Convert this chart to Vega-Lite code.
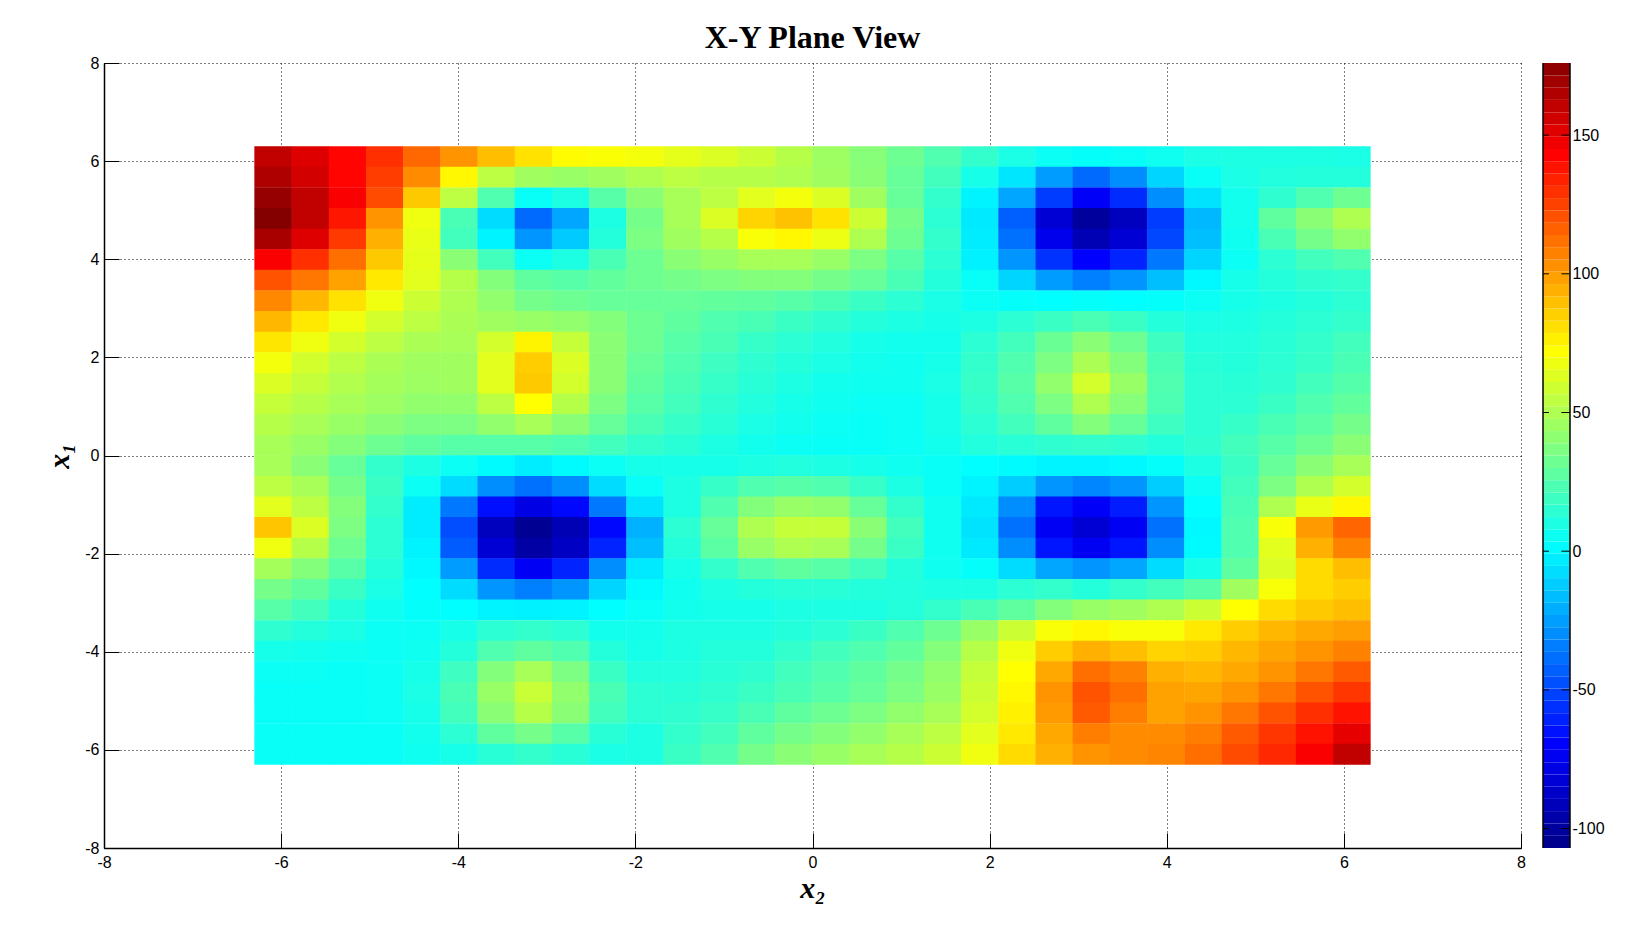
{"$schema":"https://vega.github.io/schema/vega-lite/v6.json","background":"white","padding":{"left":44,"top":22,"right":10,"bottom":10},"spacing":22,"bounds":"flush","hconcat":[{"title":{"text":"X-Y Plane View","font":"Liberation Serif","fontSize":32,"fontWeight":"bold","color":"black","offset":0,"anchor":"middle"},"width":1417,"height":785,"view":{"stroke":null},
"data":{"values":[
{"x":-6.09,"y":6.09,"v":158},{"x":-5.67,"y":6.09,"v":150},{"x":-5.25,"y":6.09,"v":140},{"x":-4.83,"y":6.09,"v":128},{"x":-4.41,"y":6.09,"v":112},{"x":-3.99,"y":6.09,"v":100},{"x":-3.57,"y":6.09,"v":88},{"x":-3.15,"y":6.09,"v":78},{"x":-2.73,"y":6.09,"v":71},{"x":-2.31,"y":6.09,"v":69},{"x":-1.89,"y":6.09,"v":67},{"x":-1.47,"y":6.09,"v":63},{"x":-1.05,"y":6.09,"v":60},{"x":-0.63,"y":6.09,"v":56},{"x":-0.21,"y":6.09,"v":50},{"x":0.21,"y":6.09,"v":43},{"x":0.63,"y":6.09,"v":37},{"x":1.05,"y":6.09,"v":30},{"x":1.47,"y":6.09,"v":22},{"x":1.89,"y":6.09,"v":14},{"x":2.31,"y":6.09,"v":7},{"x":2.73,"y":6.09,"v":3},{"x":3.15,"y":6.09,"v":1},{"x":3.57,"y":6.09,"v":2},{"x":3.99,"y":6.09,"v":4},{"x":4.41,"y":6.09,"v":7},{"x":4.83,"y":6.09,"v":8},{"x":5.25,"y":6.09,"v":8},{"x":5.67,"y":6.09,"v":8},{"x":6.09,"y":6.09,"v":7},
{"x":-6.09,"y":5.67,"v":163},{"x":-5.67,"y":5.67,"v":153},{"x":-5.25,"y":5.67,"v":140},{"x":-4.83,"y":5.67,"v":124},{"x":-4.41,"y":5.67,"v":102},{"x":-3.99,"y":5.67,"v":72},{"x":-3.57,"y":5.67,"v":52},{"x":-3.15,"y":5.67,"v":44},{"x":-2.73,"y":5.67,"v":42},{"x":-2.31,"y":5.67,"v":44},{"x":-1.89,"y":5.67,"v":48},{"x":-1.47,"y":5.67,"v":52},{"x":-1.05,"y":5.67,"v":50},{"x":-0.63,"y":5.67,"v":50},{"x":-0.21,"y":5.67,"v":48},{"x":0.21,"y":5.67,"v":44},{"x":0.63,"y":5.67,"v":38},{"x":1.05,"y":5.67,"v":28},{"x":1.47,"y":5.67,"v":18},{"x":1.89,"y":5.67,"v":6},{"x":2.31,"y":5.67,"v":-7},{"x":2.73,"y":5.67,"v":-28},{"x":3.15,"y":5.67,"v":-42},{"x":3.57,"y":5.67,"v":-32},{"x":3.99,"y":5.67,"v":-12},{"x":4.41,"y":5.67,"v":2},{"x":4.83,"y":5.67,"v":7},{"x":5.25,"y":5.67,"v":9},{"x":5.67,"y":5.67,"v":10},{"x":6.09,"y":5.67,"v":10},
{"x":-6.09,"y":5.25,"v":170},{"x":-5.67,"y":5.25,"v":158},{"x":-5.25,"y":5.25,"v":142},{"x":-4.83,"y":5.25,"v":120},{"x":-4.41,"y":5.25,"v":85},{"x":-3.99,"y":5.25,"v":52},{"x":-3.57,"y":5.25,"v":22},{"x":-3.15,"y":5.25,"v":2},{"x":-2.73,"y":5.25,"v":8},{"x":-2.31,"y":5.25,"v":24},{"x":-1.89,"y":5.25,"v":38},{"x":-1.47,"y":5.25,"v":46},{"x":-1.05,"y":5.25,"v":52},{"x":-0.63,"y":5.25,"v":62},{"x":-0.21,"y":5.25,"v":67},{"x":0.21,"y":5.25,"v":60},{"x":0.63,"y":5.25,"v":44},{"x":1.05,"y":5.25,"v":28},{"x":1.47,"y":5.25,"v":14},{"x":1.89,"y":5.25,"v":-3},{"x":2.31,"y":5.25,"v":-25},{"x":2.73,"y":5.25,"v":-55},{"x":3.15,"y":5.25,"v":-74},{"x":3.57,"y":5.25,"v":-60},{"x":3.99,"y":5.25,"v":-32},{"x":4.41,"y":5.25,"v":-8},{"x":4.83,"y":5.25,"v":5},{"x":5.25,"y":5.25,"v":13},{"x":5.67,"y":5.25,"v":22},{"x":6.09,"y":5.25,"v":30},
{"x":-6.09,"y":4.83,"v":175},{"x":-5.67,"y":4.83,"v":158},{"x":-5.25,"y":4.83,"v":135},{"x":-4.83,"y":4.83,"v":100},{"x":-4.41,"y":4.83,"v":66},{"x":-3.99,"y":4.83,"v":20},{"x":-3.57,"y":4.83,"v":-10},{"x":-3.15,"y":4.83,"v":-42},{"x":-2.73,"y":4.83,"v":-25},{"x":-2.31,"y":4.83,"v":8},{"x":-1.89,"y":4.83,"v":32},{"x":-1.47,"y":4.83,"v":46},{"x":-1.05,"y":4.83,"v":60},{"x":-0.63,"y":4.83,"v":82},{"x":-0.21,"y":4.83,"v":87},{"x":0.21,"y":4.83,"v":78},{"x":0.63,"y":4.83,"v":56},{"x":1.05,"y":4.83,"v":32},{"x":1.47,"y":4.83,"v":12},{"x":1.89,"y":4.83,"v":-6},{"x":2.31,"y":4.83,"v":-45},{"x":2.73,"y":4.83,"v":-85},{"x":3.15,"y":4.83,"v":-103},{"x":3.57,"y":4.83,"v":-92},{"x":3.99,"y":4.83,"v":-55},{"x":4.41,"y":4.83,"v":-20},{"x":4.83,"y":4.83,"v":5},{"x":5.25,"y":4.83,"v":26},{"x":5.67,"y":4.83,"v":38},{"x":6.09,"y":4.83,"v":48},
{"x":-6.09,"y":4.41,"v":165},{"x":-5.67,"y":4.41,"v":150},{"x":-5.25,"y":4.41,"v":125},{"x":-4.83,"y":4.41,"v":92},{"x":-4.41,"y":4.41,"v":64},{"x":-3.99,"y":4.41,"v":18},{"x":-3.57,"y":4.41,"v":-3},{"x":-3.15,"y":4.41,"v":-30},{"x":-2.73,"y":4.41,"v":-15},{"x":-2.31,"y":4.41,"v":10},{"x":-1.89,"y":4.41,"v":34},{"x":-1.47,"y":4.41,"v":44},{"x":-1.05,"y":4.41,"v":50},{"x":-0.63,"y":4.41,"v":68},{"x":-0.21,"y":4.41,"v":72},{"x":0.21,"y":4.41,"v":65},{"x":0.63,"y":4.41,"v":48},{"x":1.05,"y":4.41,"v":30},{"x":1.47,"y":4.41,"v":14},{"x":1.89,"y":4.41,"v":-5},{"x":2.31,"y":4.41,"v":-40},{"x":2.73,"y":4.41,"v":-78},{"x":3.15,"y":4.41,"v":-95},{"x":3.57,"y":4.41,"v":-85},{"x":3.99,"y":4.41,"v":-52},{"x":4.41,"y":4.41,"v":-18},{"x":4.83,"y":4.41,"v":4},{"x":5.25,"y":4.41,"v":20},{"x":5.67,"y":4.41,"v":32},{"x":6.09,"y":4.41,"v":40},
{"x":-6.09,"y":3.99,"v":142},{"x":-5.67,"y":3.99,"v":128},{"x":-5.25,"y":3.99,"v":110},{"x":-4.83,"y":3.99,"v":85},{"x":-4.41,"y":3.99,"v":63},{"x":-3.99,"y":3.99,"v":38},{"x":-3.57,"y":3.99,"v":18},{"x":-3.15,"y":3.99,"v":3},{"x":-2.73,"y":3.99,"v":8},{"x":-2.31,"y":3.99,"v":20},{"x":-1.89,"y":3.99,"v":30},{"x":-1.47,"y":3.99,"v":38},{"x":-1.05,"y":3.99,"v":42},{"x":-0.63,"y":3.99,"v":46},{"x":-0.21,"y":3.99,"v":46},{"x":0.21,"y":3.99,"v":42},{"x":0.63,"y":3.99,"v":34},{"x":1.05,"y":3.99,"v":24},{"x":1.47,"y":3.99,"v":12},{"x":1.89,"y":3.99,"v":-4},{"x":2.31,"y":3.99,"v":-30},{"x":2.73,"y":3.99,"v":-58},{"x":3.15,"y":3.99,"v":-72},{"x":3.57,"y":3.99,"v":-62},{"x":3.99,"y":3.99,"v":-38},{"x":4.41,"y":3.99,"v":-12},{"x":4.83,"y":3.99,"v":3},{"x":5.25,"y":3.99,"v":12},{"x":5.67,"y":3.99,"v":18},{"x":6.09,"y":3.99,"v":22},
{"x":-6.09,"y":3.57,"v":118},{"x":-5.67,"y":3.57,"v":108},{"x":-5.25,"y":3.57,"v":96},{"x":-4.83,"y":3.57,"v":76},{"x":-4.41,"y":3.57,"v":62},{"x":-3.99,"y":3.57,"v":50},{"x":-3.57,"y":3.57,"v":36},{"x":-3.15,"y":3.57,"v":26},{"x":-2.73,"y":3.57,"v":24},{"x":-2.31,"y":3.57,"v":27},{"x":-1.89,"y":3.57,"v":30},{"x":-1.47,"y":3.57,"v":32},{"x":-1.05,"y":3.57,"v":34},{"x":-0.63,"y":3.57,"v":36},{"x":-0.21,"y":3.57,"v":36},{"x":0.21,"y":3.57,"v":32},{"x":0.63,"y":3.57,"v":28},{"x":1.05,"y":3.57,"v":20},{"x":1.47,"y":3.57,"v":10},{"x":1.89,"y":3.57,"v":2},{"x":2.31,"y":3.57,"v":-12},{"x":2.73,"y":3.57,"v":-28},{"x":3.15,"y":3.57,"v":-36},{"x":3.57,"y":3.57,"v":-30},{"x":3.99,"y":3.57,"v":-18},{"x":4.41,"y":3.57,"v":-2},{"x":4.83,"y":3.57,"v":6},{"x":5.25,"y":3.57,"v":10},{"x":5.67,"y":3.57,"v":13},{"x":6.09,"y":3.57,"v":14},
{"x":-6.09,"y":3.15,"v":103},{"x":-5.67,"y":3.15,"v":90},{"x":-5.25,"y":3.15,"v":78},{"x":-4.83,"y":3.15,"v":66},{"x":-4.41,"y":3.15,"v":56},{"x":-3.99,"y":3.15,"v":48},{"x":-3.57,"y":3.15,"v":40},{"x":-3.15,"y":3.15,"v":32},{"x":-2.73,"y":3.15,"v":30},{"x":-2.31,"y":3.15,"v":28},{"x":-1.89,"y":3.15,"v":28},{"x":-1.47,"y":3.15,"v":28},{"x":-1.05,"y":3.15,"v":27},{"x":-0.63,"y":3.15,"v":26},{"x":-0.21,"y":3.15,"v":24},{"x":0.21,"y":3.15,"v":20},{"x":0.63,"y":3.15,"v":16},{"x":1.05,"y":3.15,"v":12},{"x":1.47,"y":3.15,"v":7},{"x":1.89,"y":3.15,"v":3},{"x":2.31,"y":3.15,"v":1},{"x":2.73,"y":3.15,"v":0},{"x":3.15,"y":3.15,"v":1},{"x":3.57,"y":3.15,"v":0},{"x":3.99,"y":3.15,"v":1},{"x":4.41,"y":3.15,"v":3},{"x":4.83,"y":3.15,"v":6},{"x":5.25,"y":3.15,"v":8},{"x":5.67,"y":3.15,"v":10},{"x":6.09,"y":3.15,"v":12},
{"x":-6.09,"y":2.73,"v":90},{"x":-5.67,"y":2.73,"v":76},{"x":-5.25,"y":2.73,"v":66},{"x":-4.83,"y":2.73,"v":58},{"x":-4.41,"y":2.73,"v":52},{"x":-3.99,"y":2.73,"v":47},{"x":-3.57,"y":2.73,"v":44},{"x":-3.15,"y":2.73,"v":42},{"x":-2.73,"y":2.73,"v":40},{"x":-2.31,"y":2.73,"v":36},{"x":-1.89,"y":2.73,"v":30},{"x":-1.47,"y":2.73,"v":26},{"x":-1.05,"y":2.73,"v":22},{"x":-0.63,"y":2.73,"v":20},{"x":-0.21,"y":2.73,"v":16},{"x":0.21,"y":2.73,"v":13},{"x":0.63,"y":2.73,"v":10},{"x":1.05,"y":2.73,"v":8},{"x":1.47,"y":2.73,"v":6},{"x":1.89,"y":2.73,"v":8},{"x":2.31,"y":2.73,"v":12},{"x":2.73,"y":2.73,"v":16},{"x":3.15,"y":2.73,"v":20},{"x":3.57,"y":2.73,"v":16},{"x":3.99,"y":2.73,"v":10},{"x":4.41,"y":2.73,"v":7},{"x":4.83,"y":2.73,"v":8},{"x":5.25,"y":2.73,"v":10},{"x":5.67,"y":2.73,"v":12},{"x":6.09,"y":2.73,"v":14},
{"x":-6.09,"y":2.31,"v":77},{"x":-5.67,"y":2.31,"v":66},{"x":-5.25,"y":2.31,"v":58},{"x":-4.83,"y":2.31,"v":52},{"x":-4.41,"y":2.31,"v":47},{"x":-3.99,"y":2.31,"v":46},{"x":-3.57,"y":2.31,"v":58},{"x":-3.15,"y":2.31,"v":73},{"x":-2.73,"y":2.31,"v":54},{"x":-2.31,"y":2.31,"v":38},{"x":-1.89,"y":2.31,"v":30},{"x":-1.47,"y":2.31,"v":24},{"x":-1.05,"y":2.31,"v":20},{"x":-0.63,"y":2.31,"v":15},{"x":-0.21,"y":2.31,"v":12},{"x":0.21,"y":2.31,"v":9},{"x":0.63,"y":2.31,"v":6},{"x":1.05,"y":2.31,"v":5},{"x":1.47,"y":2.31,"v":5},{"x":1.89,"y":2.31,"v":12},{"x":2.31,"y":2.31,"v":18},{"x":2.73,"y":2.31,"v":29},{"x":3.15,"y":2.31,"v":38},{"x":3.57,"y":2.31,"v":30},{"x":3.99,"y":2.31,"v":17},{"x":4.41,"y":2.31,"v":9},{"x":4.83,"y":2.31,"v":9},{"x":5.25,"y":2.31,"v":11},{"x":5.67,"y":2.31,"v":14},{"x":6.09,"y":2.31,"v":18},
{"x":-6.09,"y":1.89,"v":67},{"x":-5.67,"y":1.89,"v":58},{"x":-5.25,"y":1.89,"v":52},{"x":-4.83,"y":1.89,"v":47},{"x":-4.41,"y":1.89,"v":44},{"x":-3.99,"y":1.89,"v":44},{"x":-3.57,"y":1.89,"v":62},{"x":-3.15,"y":1.89,"v":84},{"x":-2.73,"y":1.89,"v":60},{"x":-2.31,"y":1.89,"v":38},{"x":-1.89,"y":1.89,"v":28},{"x":-1.47,"y":1.89,"v":22},{"x":-1.05,"y":1.89,"v":17},{"x":-0.63,"y":1.89,"v":13},{"x":-0.21,"y":1.89,"v":10},{"x":0.21,"y":1.89,"v":7},{"x":0.63,"y":1.89,"v":5},{"x":1.05,"y":1.89,"v":4},{"x":1.47,"y":1.89,"v":6},{"x":1.89,"y":1.89,"v":14},{"x":2.31,"y":1.89,"v":22},{"x":2.73,"y":1.89,"v":34},{"x":3.15,"y":1.89,"v":47},{"x":3.57,"y":1.89,"v":36},{"x":3.99,"y":1.89,"v":20},{"x":4.41,"y":1.89,"v":11},{"x":4.83,"y":1.89,"v":10},{"x":5.25,"y":1.89,"v":12},{"x":5.67,"y":1.89,"v":15},{"x":6.09,"y":1.89,"v":20},
{"x":-6.09,"y":1.47,"v":60},{"x":-5.67,"y":1.47,"v":54},{"x":-5.25,"y":1.47,"v":49},{"x":-4.83,"y":1.47,"v":45},{"x":-4.41,"y":1.47,"v":43},{"x":-3.99,"y":1.47,"v":44},{"x":-3.57,"y":1.47,"v":62},{"x":-3.15,"y":1.47,"v":85},{"x":-2.73,"y":1.47,"v":58},{"x":-2.31,"y":1.47,"v":38},{"x":-1.89,"y":1.47,"v":26},{"x":-1.47,"y":1.47,"v":20},{"x":-1.05,"y":1.47,"v":15},{"x":-0.63,"y":1.47,"v":11},{"x":-0.21,"y":1.47,"v":8},{"x":0.21,"y":1.47,"v":5},{"x":0.63,"y":1.47,"v":4},{"x":1.05,"y":1.47,"v":4},{"x":1.47,"y":1.47,"v":7},{"x":1.89,"y":1.47,"v":15},{"x":2.31,"y":1.47,"v":24},{"x":2.73,"y":1.47,"v":40},{"x":3.15,"y":1.47,"v":58},{"x":3.57,"y":1.47,"v":42},{"x":3.99,"y":1.47,"v":22},{"x":4.41,"y":1.47,"v":12},{"x":4.83,"y":1.47,"v":11},{"x":5.25,"y":1.47,"v":13},{"x":5.67,"y":1.47,"v":18},{"x":6.09,"y":1.47,"v":23},
{"x":-6.09,"y":1.05,"v":54},{"x":-5.67,"y":1.05,"v":50},{"x":-5.25,"y":1.05,"v":46},{"x":-4.83,"y":1.05,"v":43},{"x":-4.41,"y":1.05,"v":40},{"x":-3.99,"y":1.05,"v":40},{"x":-3.57,"y":1.05,"v":52},{"x":-3.15,"y":1.05,"v":70},{"x":-2.73,"y":1.05,"v":50},{"x":-2.31,"y":1.05,"v":34},{"x":-1.89,"y":1.05,"v":24},{"x":-1.47,"y":1.05,"v":18},{"x":-1.05,"y":1.05,"v":13},{"x":-0.63,"y":1.05,"v":9},{"x":-0.21,"y":1.05,"v":6},{"x":0.21,"y":1.05,"v":4},{"x":0.63,"y":1.05,"v":3},{"x":1.05,"y":1.05,"v":3},{"x":1.47,"y":1.05,"v":6},{"x":1.89,"y":1.05,"v":14},{"x":2.31,"y":1.05,"v":22},{"x":2.73,"y":1.05,"v":34},{"x":3.15,"y":1.05,"v":48},{"x":3.57,"y":1.05,"v":37},{"x":3.99,"y":1.05,"v":21},{"x":4.41,"y":1.05,"v":12},{"x":4.83,"y":1.05,"v":12},{"x":5.25,"y":1.05,"v":16},{"x":5.67,"y":1.05,"v":22},{"x":6.09,"y":1.05,"v":27},
{"x":-6.09,"y":0.63,"v":50},{"x":-5.67,"y":0.63,"v":46},{"x":-5.25,"y":0.63,"v":42},{"x":-4.83,"y":0.63,"v":38},{"x":-4.41,"y":0.63,"v":34},{"x":-3.99,"y":0.63,"v":34},{"x":-3.57,"y":0.63,"v":40},{"x":-3.15,"y":0.63,"v":46},{"x":-2.73,"y":0.63,"v":38},{"x":-2.31,"y":0.63,"v":28},{"x":-1.89,"y":0.63,"v":20},{"x":-1.47,"y":0.63,"v":15},{"x":-1.05,"y":0.63,"v":11},{"x":-0.63,"y":0.63,"v":7},{"x":-0.21,"y":0.63,"v":5},{"x":0.21,"y":0.63,"v":3},{"x":0.63,"y":0.63,"v":2},{"x":1.05,"y":0.63,"v":3},{"x":1.47,"y":0.63,"v":6},{"x":1.89,"y":0.63,"v":12},{"x":2.31,"y":0.63,"v":18},{"x":2.73,"y":0.63,"v":26},{"x":3.15,"y":0.63,"v":36},{"x":3.57,"y":0.63,"v":28},{"x":3.99,"y":0.63,"v":17},{"x":4.41,"y":0.63,"v":12},{"x":4.83,"y":0.63,"v":15},{"x":5.25,"y":0.63,"v":20},{"x":5.67,"y":0.63,"v":25},{"x":6.09,"y":0.63,"v":32},
{"x":-6.09,"y":0.21,"v":46},{"x":-5.67,"y":0.21,"v":42},{"x":-5.25,"y":0.21,"v":36},{"x":-4.83,"y":0.21,"v":30},{"x":-4.41,"y":0.21,"v":26},{"x":-3.99,"y":0.21,"v":24},{"x":-3.57,"y":0.21,"v":24},{"x":-3.15,"y":0.21,"v":24},{"x":-2.73,"y":0.21,"v":22},{"x":-2.31,"y":0.21,"v":18},{"x":-1.89,"y":0.21,"v":14},{"x":-1.47,"y":0.21,"v":11},{"x":-1.05,"y":0.21,"v":8},{"x":-0.63,"y":0.21,"v":5},{"x":-0.21,"y":0.21,"v":3},{"x":0.21,"y":0.21,"v":2},{"x":0.63,"y":0.21,"v":2},{"x":1.05,"y":0.21,"v":3},{"x":1.47,"y":0.21,"v":5},{"x":1.89,"y":0.21,"v":9},{"x":2.31,"y":0.21,"v":11},{"x":2.73,"y":0.21,"v":13},{"x":3.15,"y":0.21,"v":14},{"x":3.57,"y":0.21,"v":13},{"x":3.99,"y":0.21,"v":10},{"x":4.41,"y":0.21,"v":13},{"x":4.83,"y":0.21,"v":18},{"x":5.25,"y":0.21,"v":24},{"x":5.67,"y":0.21,"v":30},{"x":6.09,"y":0.21,"v":38},
{"x":-6.09,"y":-0.21,"v":46},{"x":-5.67,"y":-0.21,"v":38},{"x":-5.25,"y":-0.21,"v":28},{"x":-4.83,"y":-0.21,"v":14},{"x":-4.41,"y":-0.21,"v":8},{"x":-3.99,"y":-0.21,"v":3},{"x":-3.57,"y":-0.21,"v":-1},{"x":-3.15,"y":-0.21,"v":-5},{"x":-2.73,"y":-0.21,"v":-1},{"x":-2.31,"y":-0.21,"v":3},{"x":-1.89,"y":-0.21,"v":6},{"x":-1.47,"y":-0.21,"v":6},{"x":-1.05,"y":-0.21,"v":6},{"x":-0.63,"y":-0.21,"v":8},{"x":-0.21,"y":-0.21,"v":9},{"x":0.21,"y":-0.21,"v":8},{"x":0.63,"y":-0.21,"v":6},{"x":1.05,"y":-0.21,"v":4},{"x":1.47,"y":-0.21,"v":2},{"x":1.89,"y":-0.21,"v":0},{"x":2.31,"y":-0.21,"v":-1},{"x":2.73,"y":-0.21,"v":-3},{"x":3.15,"y":-0.21,"v":-3},{"x":3.57,"y":-0.21,"v":-2},{"x":3.99,"y":-0.21,"v":1},{"x":4.41,"y":-0.21,"v":8},{"x":4.83,"y":-0.21,"v":16},{"x":5.25,"y":-0.21,"v":28},{"x":5.67,"y":-0.21,"v":38},{"x":6.09,"y":-0.21,"v":46},
{"x":-6.09,"y":-0.63,"v":52},{"x":-5.67,"y":-0.63,"v":46},{"x":-5.25,"y":-0.63,"v":32},{"x":-4.83,"y":-0.63,"v":16},{"x":-4.41,"y":-0.63,"v":3},{"x":-3.99,"y":-0.63,"v":-10},{"x":-3.57,"y":-0.63,"v":-32},{"x":-3.15,"y":-0.63,"v":-40},{"x":-2.73,"y":-0.63,"v":-32},{"x":-2.31,"y":-0.63,"v":-10},{"x":-1.89,"y":-0.63,"v":2},{"x":-1.47,"y":-0.63,"v":8},{"x":-1.05,"y":-0.63,"v":15},{"x":-0.63,"y":-0.63,"v":22},{"x":-0.21,"y":-0.63,"v":24},{"x":0.21,"y":-0.63,"v":22},{"x":0.63,"y":-0.63,"v":15},{"x":1.05,"y":-0.63,"v":8},{"x":1.47,"y":-0.63,"v":2},{"x":1.89,"y":-0.63,"v":-3},{"x":2.31,"y":-0.63,"v":-14},{"x":2.73,"y":-0.63,"v":-30},{"x":3.15,"y":-0.63,"v":-34},{"x":3.57,"y":-0.63,"v":-30},{"x":3.99,"y":-0.63,"v":-14},{"x":4.41,"y":-0.63,"v":3},{"x":4.83,"y":-0.63,"v":18},{"x":5.25,"y":-0.63,"v":34},{"x":5.67,"y":-0.63,"v":48},{"x":6.09,"y":-0.63,"v":58},
{"x":-6.09,"y":-1.05,"v":62},{"x":-5.67,"y":-1.05,"v":52},{"x":-5.25,"y":-1.05,"v":36},{"x":-4.83,"y":-1.05,"v":14},{"x":-4.41,"y":-1.05,"v":-5},{"x":-3.99,"y":-1.05,"v":-38},{"x":-3.57,"y":-1.05,"v":-68},{"x":-3.15,"y":-1.05,"v":-80},{"x":-2.73,"y":-1.05,"v":-70},{"x":-2.31,"y":-1.05,"v":-38},{"x":-1.89,"y":-1.05,"v":-8},{"x":-1.47,"y":-1.05,"v":8},{"x":-1.05,"y":-1.05,"v":22},{"x":-0.63,"y":-1.05,"v":36},{"x":-0.21,"y":-1.05,"v":42},{"x":0.21,"y":-1.05,"v":40},{"x":0.63,"y":-1.05,"v":28},{"x":1.05,"y":-1.05,"v":14},{"x":1.47,"y":-1.05,"v":4},{"x":1.89,"y":-1.05,"v":-6},{"x":2.31,"y":-1.05,"v":-32},{"x":2.73,"y":-1.05,"v":-66},{"x":3.15,"y":-1.05,"v":-74},{"x":3.57,"y":-1.05,"v":-64},{"x":3.99,"y":-1.05,"v":-30},{"x":4.41,"y":-1.05,"v":0},{"x":4.83,"y":-1.05,"v":20},{"x":5.25,"y":-1.05,"v":48},{"x":5.67,"y":-1.05,"v":64},{"x":6.09,"y":-1.05,"v":72},
{"x":-6.09,"y":-1.47,"v":86},{"x":-5.67,"y":-1.47,"v":60},{"x":-5.25,"y":-1.47,"v":34},{"x":-4.83,"y":-1.47,"v":12},{"x":-4.41,"y":-1.47,"v":-5},{"x":-3.99,"y":-1.47,"v":-50},{"x":-3.57,"y":-1.47,"v":-92},{"x":-3.15,"y":-1.47,"v":-106},{"x":-2.73,"y":-1.47,"v":-95},{"x":-2.31,"y":-1.47,"v":-70},{"x":-1.89,"y":-1.47,"v":-22},{"x":-1.47,"y":-1.47,"v":12},{"x":-1.05,"y":-1.47,"v":28},{"x":-0.63,"y":-1.47,"v":48},{"x":-0.21,"y":-1.47,"v":54},{"x":0.21,"y":-1.47,"v":54},{"x":0.63,"y":-1.47,"v":38},{"x":1.05,"y":-1.47,"v":18},{"x":1.47,"y":-1.47,"v":4},{"x":1.89,"y":-1.47,"v":-8},{"x":2.31,"y":-1.47,"v":-40},{"x":2.73,"y":-1.47,"v":-75},{"x":3.15,"y":-1.47,"v":-85},{"x":3.57,"y":-1.47,"v":-75},{"x":3.99,"y":-1.47,"v":-40},{"x":4.41,"y":-1.47,"v":-2},{"x":4.83,"y":-1.47,"v":22},{"x":5.25,"y":-1.47,"v":68},{"x":5.67,"y":-1.47,"v":98},{"x":6.09,"y":-1.47,"v":113},
{"x":-6.09,"y":-1.89,"v":66},{"x":-5.67,"y":-1.89,"v":50},{"x":-5.25,"y":-1.89,"v":30},{"x":-4.83,"y":-1.89,"v":12},{"x":-4.41,"y":-1.89,"v":-3},{"x":-3.99,"y":-1.89,"v":-46},{"x":-3.57,"y":-1.89,"v":-85},{"x":-3.15,"y":-1.89,"v":-100},{"x":-2.73,"y":-1.89,"v":-90},{"x":-2.31,"y":-1.89,"v":-62},{"x":-1.89,"y":-1.89,"v":-18},{"x":-1.47,"y":-1.89,"v":10},{"x":-1.05,"y":-1.89,"v":25},{"x":-0.63,"y":-1.89,"v":42},{"x":-0.21,"y":-1.89,"v":48},{"x":0.21,"y":-1.89,"v":46},{"x":0.63,"y":-1.89,"v":32},{"x":1.05,"y":-1.89,"v":16},{"x":1.47,"y":-1.89,"v":4},{"x":1.89,"y":-1.89,"v":-6},{"x":2.31,"y":-1.89,"v":-32},{"x":2.73,"y":-1.89,"v":-66},{"x":3.15,"y":-1.89,"v":-76},{"x":3.57,"y":-1.89,"v":-66},{"x":3.99,"y":-1.89,"v":-32},{"x":4.41,"y":-1.89,"v":-1},{"x":4.83,"y":-1.89,"v":22},{"x":5.25,"y":-1.89,"v":62},{"x":5.67,"y":-1.89,"v":92},{"x":6.09,"y":-1.89,"v":105},
{"x":-6.09,"y":-2.31,"v":45},{"x":-5.67,"y":-2.31,"v":36},{"x":-5.25,"y":-2.31,"v":24},{"x":-4.83,"y":-2.31,"v":10},{"x":-4.41,"y":-2.31,"v":-2},{"x":-3.99,"y":-2.31,"v":-28},{"x":-3.57,"y":-2.31,"v":-60},{"x":-3.15,"y":-2.31,"v":-75},{"x":-2.73,"y":-2.31,"v":-62},{"x":-2.31,"y":-2.31,"v":-32},{"x":-1.89,"y":-2.31,"v":-6},{"x":-1.47,"y":-2.31,"v":6},{"x":-1.05,"y":-2.31,"v":14},{"x":-0.63,"y":-2.31,"v":22},{"x":-0.21,"y":-2.31,"v":26},{"x":0.21,"y":-2.31,"v":24},{"x":0.63,"y":-2.31,"v":18},{"x":1.05,"y":-2.31,"v":10},{"x":1.47,"y":-2.31,"v":4},{"x":1.89,"y":-2.31,"v":1},{"x":2.31,"y":-2.31,"v":-10},{"x":2.73,"y":-2.31,"v":-25},{"x":3.15,"y":-2.31,"v":-30},{"x":3.57,"y":-2.31,"v":-25},{"x":3.99,"y":-2.31,"v":-10},{"x":4.41,"y":-2.31,"v":6},{"x":4.83,"y":-2.31,"v":26},{"x":5.25,"y":-2.31,"v":60},{"x":5.67,"y":-2.31,"v":80},{"x":6.09,"y":-2.31,"v":88},
{"x":-6.09,"y":-2.73,"v":32},{"x":-5.67,"y":-2.73,"v":26},{"x":-5.25,"y":-2.73,"v":16},{"x":-4.83,"y":-2.73,"v":7},{"x":-4.41,"y":-2.73,"v":0},{"x":-3.99,"y":-2.73,"v":-10},{"x":-3.57,"y":-2.73,"v":-30},{"x":-3.15,"y":-2.73,"v":-36},{"x":-2.73,"y":-2.73,"v":-30},{"x":-2.31,"y":-2.73,"v":-12},{"x":-1.89,"y":-2.73,"v":-1},{"x":-1.47,"y":-2.73,"v":4},{"x":-1.05,"y":-2.73,"v":8},{"x":-0.63,"y":-2.73,"v":10},{"x":-0.21,"y":-2.73,"v":11},{"x":0.21,"y":-2.73,"v":11},{"x":0.63,"y":-2.73,"v":10},{"x":1.05,"y":-2.73,"v":9},{"x":1.47,"y":-2.73,"v":8},{"x":1.89,"y":-2.73,"v":8},{"x":2.31,"y":-2.73,"v":12},{"x":2.73,"y":-2.73,"v":14},{"x":3.15,"y":-2.73,"v":10},{"x":3.57,"y":-2.73,"v":14},{"x":3.99,"y":-2.73,"v":18},{"x":4.41,"y":-2.73,"v":24},{"x":4.83,"y":-2.73,"v":44},{"x":5.25,"y":-2.73,"v":68},{"x":5.67,"y":-2.73,"v":80},{"x":6.09,"y":-2.73,"v":84},
{"x":-6.09,"y":-3.15,"v":24},{"x":-5.67,"y":-3.15,"v":18},{"x":-5.25,"y":-3.15,"v":10},{"x":-4.83,"y":-3.15,"v":4},{"x":-4.41,"y":-3.15,"v":1},{"x":-3.99,"y":-3.15,"v":0},{"x":-3.57,"y":-3.15,"v":-3},{"x":-3.15,"y":-3.15,"v":-4},{"x":-2.73,"y":-3.15,"v":-3},{"x":-2.31,"y":-3.15,"v":0},{"x":-1.89,"y":-3.15,"v":2},{"x":-1.47,"y":-3.15,"v":5},{"x":-1.05,"y":-3.15,"v":6},{"x":-0.63,"y":-3.15,"v":6},{"x":-0.21,"y":-3.15,"v":8},{"x":0.21,"y":-3.15,"v":8},{"x":0.63,"y":-3.15,"v":8},{"x":1.05,"y":-3.15,"v":10},{"x":1.47,"y":-3.15,"v":14},{"x":1.89,"y":-3.15,"v":20},{"x":2.31,"y":-3.15,"v":26},{"x":2.73,"y":-3.15,"v":36},{"x":3.15,"y":-3.15,"v":42},{"x":3.57,"y":-3.15,"v":44},{"x":3.99,"y":-3.15,"v":48},{"x":4.41,"y":-3.15,"v":56},{"x":4.83,"y":-3.15,"v":70},{"x":5.25,"y":-3.15,"v":80},{"x":5.67,"y":-3.15,"v":85},{"x":6.09,"y":-3.15,"v":88},
{"x":-6.09,"y":-3.57,"v":13},{"x":-5.67,"y":-3.57,"v":10},{"x":-5.25,"y":-3.57,"v":7},{"x":-4.83,"y":-3.57,"v":3},{"x":-4.41,"y":-3.57,"v":3},{"x":-3.99,"y":-3.57,"v":6},{"x":-3.57,"y":-3.57,"v":12},{"x":-3.15,"y":-3.57,"v":14},{"x":-2.73,"y":-3.57,"v":12},{"x":-2.31,"y":-3.57,"v":5},{"x":-1.89,"y":-3.57,"v":5},{"x":-1.47,"y":-3.57,"v":8},{"x":-1.05,"y":-3.57,"v":8},{"x":-0.63,"y":-3.57,"v":8},{"x":-0.21,"y":-3.57,"v":10},{"x":0.21,"y":-3.57,"v":12},{"x":0.63,"y":-3.57,"v":16},{"x":1.05,"y":-3.57,"v":22},{"x":1.47,"y":-3.57,"v":30},{"x":1.89,"y":-3.57,"v":42},{"x":2.31,"y":-3.57,"v":56},{"x":2.73,"y":-3.57,"v":68},{"x":3.15,"y":-3.57,"v":72},{"x":3.57,"y":-3.57,"v":68},{"x":3.99,"y":-3.57,"v":68},{"x":4.41,"y":-3.57,"v":76},{"x":4.83,"y":-3.57,"v":84},{"x":5.25,"y":-3.57,"v":90},{"x":5.67,"y":-3.57,"v":94},{"x":6.09,"y":-3.57,"v":97},
{"x":-6.09,"y":-3.99,"v":6},{"x":-5.67,"y":-3.99,"v":5},{"x":-5.25,"y":-3.99,"v":4},{"x":-4.83,"y":-3.99,"v":3},{"x":-4.41,"y":-3.99,"v":4},{"x":-3.99,"y":-3.99,"v":10},{"x":-3.57,"y":-3.99,"v":22},{"x":-3.15,"y":-3.99,"v":26},{"x":-2.73,"y":-3.99,"v":22},{"x":-2.31,"y":-3.99,"v":10},{"x":-1.89,"y":-3.99,"v":6},{"x":-1.47,"y":-3.99,"v":8},{"x":-1.05,"y":-3.99,"v":10},{"x":-0.63,"y":-3.99,"v":10},{"x":-0.21,"y":-3.99,"v":14},{"x":0.21,"y":-3.99,"v":18},{"x":0.63,"y":-3.99,"v":22},{"x":1.05,"y":-3.99,"v":27},{"x":1.47,"y":-3.99,"v":36},{"x":1.89,"y":-3.99,"v":50},{"x":2.31,"y":-3.99,"v":66},{"x":2.73,"y":-3.99,"v":84},{"x":3.15,"y":-3.99,"v":92},{"x":3.57,"y":-3.99,"v":88},{"x":3.99,"y":-3.99,"v":82},{"x":4.41,"y":-3.99,"v":84},{"x":4.83,"y":-3.99,"v":90},{"x":5.25,"y":-3.99,"v":95},{"x":5.67,"y":-3.99,"v":100},{"x":6.09,"y":-3.99,"v":105},
{"x":-6.09,"y":-4.41,"v":3},{"x":-5.67,"y":-4.41,"v":3},{"x":-5.25,"y":-4.41,"v":2},{"x":-4.83,"y":-4.41,"v":3},{"x":-4.41,"y":-4.41,"v":6},{"x":-3.99,"y":-4.41,"v":17},{"x":-3.57,"y":-4.41,"v":36},{"x":-3.15,"y":-4.41,"v":46},{"x":-2.73,"y":-4.41,"v":34},{"x":-2.31,"y":-4.41,"v":16},{"x":-1.89,"y":-4.41,"v":9},{"x":-1.47,"y":-4.41,"v":9},{"x":-1.05,"y":-4.41,"v":11},{"x":-0.63,"y":-4.41,"v":13},{"x":-0.21,"y":-4.41,"v":18},{"x":0.21,"y":-4.41,"v":22},{"x":0.63,"y":-4.41,"v":26},{"x":1.05,"y":-4.41,"v":32},{"x":1.47,"y":-4.41,"v":40},{"x":1.89,"y":-4.41,"v":54},{"x":2.31,"y":-4.41,"v":70},{"x":2.73,"y":-4.41,"v":94},{"x":3.15,"y":-4.41,"v":110},{"x":3.57,"y":-4.41,"v":105},{"x":3.99,"y":-4.41,"v":92},{"x":4.41,"y":-4.41,"v":90},{"x":4.83,"y":-4.41,"v":94},{"x":5.25,"y":-4.41,"v":100},{"x":5.67,"y":-4.41,"v":108},{"x":6.09,"y":-4.41,"v":116},
{"x":-6.09,"y":-4.83,"v":2},{"x":-5.67,"y":-4.83,"v":2},{"x":-5.25,"y":-4.83,"v":2},{"x":-4.83,"y":-4.83,"v":3},{"x":-4.41,"y":-4.83,"v":7},{"x":-3.99,"y":-4.83,"v":20},{"x":-3.57,"y":-4.83,"v":42},{"x":-3.15,"y":-4.83,"v":55},{"x":-2.73,"y":-4.83,"v":40},{"x":-2.31,"y":-4.83,"v":20},{"x":-1.89,"y":-4.83,"v":12},{"x":-1.47,"y":-4.83,"v":11},{"x":-1.05,"y":-4.83,"v":13},{"x":-0.63,"y":-4.83,"v":16},{"x":-0.21,"y":-4.83,"v":20},{"x":0.21,"y":-4.83,"v":24},{"x":0.63,"y":-4.83,"v":28},{"x":1.05,"y":-4.83,"v":34},{"x":1.47,"y":-4.83,"v":42},{"x":1.89,"y":-4.83,"v":56},{"x":2.31,"y":-4.83,"v":72},{"x":2.73,"y":-4.83,"v":100},{"x":3.15,"y":-4.83,"v":118},{"x":3.57,"y":-4.83,"v":110},{"x":3.99,"y":-4.83,"v":96},{"x":4.41,"y":-4.83,"v":95},{"x":4.83,"y":-4.83,"v":100},{"x":5.25,"y":-4.83,"v":108},{"x":5.67,"y":-4.83,"v":118},{"x":6.09,"y":-4.83,"v":126},
{"x":-6.09,"y":-5.25,"v":2},{"x":-5.67,"y":-5.25,"v":2},{"x":-5.25,"y":-5.25,"v":2},{"x":-4.83,"y":-5.25,"v":3},{"x":-4.41,"y":-5.25,"v":6},{"x":-3.99,"y":-5.25,"v":18},{"x":-3.57,"y":-5.25,"v":38},{"x":-3.15,"y":-5.25,"v":50},{"x":-2.73,"y":-5.25,"v":38},{"x":-2.31,"y":-5.25,"v":18},{"x":-1.89,"y":-5.25,"v":12},{"x":-1.47,"y":-5.25,"v":13},{"x":-1.05,"y":-5.25,"v":15},{"x":-0.63,"y":-5.25,"v":20},{"x":-0.21,"y":-5.25,"v":26},{"x":0.21,"y":-5.25,"v":30},{"x":0.63,"y":-5.25,"v":34},{"x":1.05,"y":-5.25,"v":40},{"x":1.47,"y":-5.25,"v":46},{"x":1.89,"y":-5.25,"v":58},{"x":2.31,"y":-5.25,"v":74},{"x":2.73,"y":-5.25,"v":98},{"x":3.15,"y":-5.25,"v":116},{"x":3.57,"y":-5.25,"v":106},{"x":3.99,"y":-5.25,"v":96},{"x":4.41,"y":-5.25,"v":100},{"x":4.83,"y":-5.25,"v":108},{"x":5.25,"y":-5.25,"v":118},{"x":5.67,"y":-5.25,"v":128},{"x":6.09,"y":-5.25,"v":136},
{"x":-6.09,"y":-5.67,"v":2},{"x":-5.67,"y":-5.67,"v":2},{"x":-5.25,"y":-5.67,"v":2},{"x":-4.83,"y":-5.67,"v":2},{"x":-4.41,"y":-5.67,"v":5},{"x":-3.99,"y":-5.67,"v":12},{"x":-3.57,"y":-5.67,"v":26},{"x":-3.15,"y":-5.67,"v":32},{"x":-2.73,"y":-5.67,"v":24},{"x":-2.31,"y":-5.67,"v":11},{"x":-1.89,"y":-5.67,"v":8},{"x":-1.47,"y":-5.67,"v":14},{"x":-1.05,"y":-5.67,"v":18},{"x":-0.63,"y":-5.67,"v":26},{"x":-0.21,"y":-5.67,"v":32},{"x":0.21,"y":-5.67,"v":36},{"x":0.63,"y":-5.67,"v":40},{"x":1.05,"y":-5.67,"v":46},{"x":1.47,"y":-5.67,"v":52},{"x":1.89,"y":-5.67,"v":62},{"x":2.31,"y":-5.67,"v":76},{"x":2.73,"y":-5.67,"v":94},{"x":3.15,"y":-5.67,"v":106},{"x":3.57,"y":-5.67,"v":102},{"x":3.99,"y":-5.67,"v":102},{"x":4.41,"y":-5.67,"v":106},{"x":4.83,"y":-5.67,"v":116},{"x":5.25,"y":-5.67,"v":126},{"x":5.67,"y":-5.67,"v":136},{"x":6.09,"y":-5.67,"v":148},
{"x":-6.09,"y":-6.09,"v":2},{"x":-5.67,"y":-6.09,"v":2},{"x":-5.25,"y":-6.09,"v":2},{"x":-4.83,"y":-6.09,"v":2},{"x":-4.41,"y":-6.09,"v":4},{"x":-3.99,"y":-6.09,"v":6},{"x":-3.57,"y":-6.09,"v":11},{"x":-3.15,"y":-6.09,"v":14},{"x":-2.73,"y":-6.09,"v":11},{"x":-2.31,"y":-6.09,"v":7},{"x":-1.89,"y":-6.09,"v":8},{"x":-1.47,"y":-6.09,"v":16},{"x":-1.05,"y":-6.09,"v":22},{"x":-0.63,"y":-6.09,"v":32},{"x":-0.21,"y":-6.09,"v":38},{"x":0.21,"y":-6.09,"v":42},{"x":0.63,"y":-6.09,"v":46},{"x":1.05,"y":-6.09,"v":50},{"x":1.47,"y":-6.09,"v":56},{"x":1.89,"y":-6.09,"v":66},{"x":2.31,"y":-6.09,"v":80},{"x":2.73,"y":-6.09,"v":92},{"x":3.15,"y":-6.09,"v":100},{"x":3.57,"y":-6.09,"v":102},{"x":3.99,"y":-6.09,"v":104},{"x":4.41,"y":-6.09,"v":110},{"x":4.83,"y":-6.09,"v":120},{"x":5.25,"y":-6.09,"v":130},{"x":5.67,"y":-6.09,"v":142},{"x":6.09,"y":-6.09,"v":158}
]},
"mark":{"type":"rect","width":37.6,"height":21},
"encoding":{
"x":{"field":"x","type":"quantitative","scale":{"domain":[-8,8],"nice":false,"zero":false},"axis":{"title":"x₂","titleFont":"Liberation Serif","titleFontSize":30,"titleFontStyle":"italic","titleFontWeight":"bold","titleColor":"black","titlePadding":3,"values":[-8,-6,-4,-2,0,2,4,6,8],"labelExpr":"datum.value+''","labelFont":"Liberation Sans","labelFontSize":16,"labelColor":"black","labelFlush":false,"labelOverlap":false,"labelPadding":21,"tickSize":-15,"tickColor":"black","domainColor":"black","domainWidth":1.5,"grid":true,"gridColor":"black","gridOpacity":1,"gridDash":[1,3]}},
"y":{"field":"y","type":"quantitative","scale":{"domain":[-8,8],"nice":false,"zero":false},"axis":{"title":"x₁","titleFont":"Liberation Serif","titleFontSize":30,"titleFontStyle":"italic","titleFontWeight":"bold","titleColor":"black","titlePadding":10,"values":[-8,-6,-4,-2,0,2,4,6,8],"labelExpr":"datum.value+''","labelFont":"Liberation Sans","labelFontSize":16,"labelColor":"black","labelFlush":false,"labelOverlap":false,"labelPadding":20,"tickSize":-15,"tickColor":"black","domainColor":"black","domainWidth":1.5,"grid":true,"gridColor":"black","gridOpacity":1,"gridDash":[1,3]}},
"color":{"field":"v","type":"quantitative","legend":null,"scale":{"domain":[-107,-72,0,70,141,176],"range":["#00008f","#0000ff","#00ffff","#ffff00","#ff0000","#800000"],"interpolate":"rgb"}}
}},
{"width":27,"height":785,"view":{"stroke":null},"layer":[
{"data":{"values":[{"lo":-107,"hi":-102.6},{"lo":-102.6,"hi":-98.2},{"lo":-98.2,"hi":-93.7},{"lo":-93.7,"hi":-89.3},{"lo":-89.3,"hi":-84.9},{"lo":-84.9,"hi":-80.5},{"lo":-80.5,"hi":-76.1},{"lo":-76.1,"hi":-71.6},{"lo":-71.6,"hi":-67.2},{"lo":-67.2,"hi":-62.8},{"lo":-62.8,"hi":-58.4},{"lo":-58.4,"hi":-53.9},{"lo":-53.9,"hi":-49.5},{"lo":-49.5,"hi":-45.1},{"lo":-45.1,"hi":-40.7},{"lo":-40.7,"hi":-36.3},{"lo":-36.3,"hi":-31.8},{"lo":-31.8,"hi":-27.4},{"lo":-27.4,"hi":-23},{"lo":-23,"hi":-18.6},{"lo":-18.6,"hi":-14.1},{"lo":-14.1,"hi":-9.7},{"lo":-9.7,"hi":-5.3},{"lo":-5.3,"hi":-0.9},{"lo":-0.9,"hi":3.5},{"lo":3.5,"hi":7.9},{"lo":7.9,"hi":12.3},{"lo":12.3,"hi":16.8},{"lo":16.8,"hi":21.2},{"lo":21.2,"hi":25.6},{"lo":25.6,"hi":30},{"lo":30,"hi":34.5},{"lo":34.5,"hi":38.9},{"lo":38.9,"hi":43.3},{"lo":43.3,"hi":47.7},{"lo":47.7,"hi":52.1},{"lo":52.1,"hi":56.6},{"lo":56.6,"hi":61},{"lo":61,"hi":65.4},{"lo":65.4,"hi":69.8},{"lo":69.8,"hi":74.2},{"lo":74.2,"hi":78.7},{"lo":78.7,"hi":83.1},{"lo":83.1,"hi":87.5},{"lo":87.5,"hi":91.9},{"lo":91.9,"hi":96.3},{"lo":96.3,"hi":100.8},{"lo":100.8,"hi":105.2},{"lo":105.2,"hi":109.6},{"lo":109.6,"hi":114},{"lo":114,"hi":118.4},{"lo":118.4,"hi":122.9},{"lo":122.9,"hi":127.3},{"lo":127.3,"hi":131.7},{"lo":131.7,"hi":136.1},{"lo":136.1,"hi":140.6},{"lo":140.6,"hi":145},{"lo":145,"hi":149.4},{"lo":149.4,"hi":153.8},{"lo":153.8,"hi":158.2},{"lo":158.2,"hi":162.7},{"lo":162.7,"hi":167.1},{"lo":167.1,"hi":171.5},{"lo":171.5,"hi":176}]},
"mark":{"type":"rect"},
"encoding":{
"y":{"field":"lo","type":"quantitative","scale":{"domain":[-107,176],"nice":false,"zero":false},"axis":{"title":null,"orient":"right","values":[-100,-50,0,50,100,150],"labelExpr":"datum.value+''","labelFont":"Liberation Sans","labelFontSize":16,"labelColor":"black","labelPadding":2,"tickSize":0,"domain":false,"grid":false}},
"y2":{"field":"hi"},
"color":{"field":"lo","type":"quantitative","legend":null,"scale":{"domain":[-107,-72,0,70,141,176],"range":["#00008f","#0000ff","#00ffff","#ffff00","#ff0000","#800000"],"interpolate":"rgb"}}
}},
{"data":{"values":[{"a":0,"b":0.22,"t":-100},{"a":0.68,"b":1,"t":-100},{"a":0,"b":0.22,"t":-50},{"a":0.68,"b":1,"t":-50},{"a":0,"b":0.22,"t":0},{"a":0.68,"b":1,"t":0},{"a":0,"b":0.22,"t":50},{"a":0.68,"b":1,"t":50},{"a":0,"b":0.22,"t":100},{"a":0.68,"b":1,"t":100},{"a":0,"b":0.22,"t":150},{"a":0.68,"b":1,"t":150}]},
"mark":{"type":"rule","color":"black"},
"encoding":{
"x":{"field":"a","type":"quantitative","scale":{"domain":[0,1],"nice":false,"zero":false},"axis":null},
"x2":{"field":"b"},
"y":{"field":"t","type":"quantitative"}
}},
{"data":{"values":[{"s":0,"lo":-107,"hi":176},{"s":1,"lo":-107,"hi":176}]},
"mark":{"type":"rule","color":"black","strokeWidth":1.5},
"encoding":{
"x":{"field":"s","type":"quantitative"},
"y":{"field":"lo","type":"quantitative"},
"y2":{"field":"hi"}
}}
]}
]}
